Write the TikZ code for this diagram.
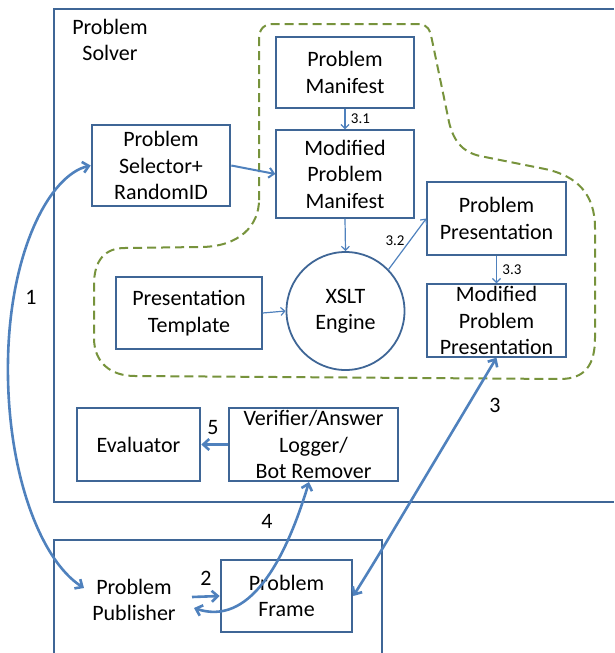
\documentclass[tikz,border=0pt]{standalone}
\usepackage{fontspec}
\setmainfont{Carlito}
\usetikzlibrary{arrows.meta}
\definecolor{boxblue}{HTML}{3F6696}
\definecolor{arrowblue}{HTML}{4F81BD}
\definecolor{olivegreen}{HTML}{77933C}
\tikzset{
  every node/.style={font=\fontsize{22}{26.5}\selectfont, align=center, text=black},
  thinbox/.style={draw=boxblue, line width=1.4pt, inner sep=0pt},
  thickbox/.style={draw=boxblue, line width=2.6pt, inner sep=0pt},
  frameline/.style={draw=boxblue, line width=2.6pt},
  bigtip/.tip={Straight Barb[length=6pt,width=11pt]},
  midtip/.tip={Straight Barb[length=5pt,width=10pt]},
  smalltip/.tip={Straight Barb[length=4pt,width=8pt]},
  bigarrow/.style={draw=arrowblue, line width=2.6pt, bigtip-bigtip},
  onearrow/.style={draw=arrowblue, line width=2.6pt, -bigtip},
  midarrow/.style={draw=arrowblue, line width=2pt, -midtip},
  smallarrow/.style={draw=arrowblue, line width=1.2pt, -smalltip},
  numlabel/.style={font=\fontsize{22}{26}\selectfont},
  steplabel/.style={font=\fontsize{15}{18}\selectfont},
  region/.style={draw=olivegreen, line width=2pt, dash pattern=on 9pt off 5pt}
}
\begin{document}
\begin{tikzpicture}[x=1pt,y=-1pt]
\useasboundingbox (0,0) rectangle (614,653);

% outer frames
\draw[frameline] (614,9) -- (54,9) -- (54,502) -- (614,502);
\draw[frameline] (54,653) -- (54,540) -- (382,540) -- (382,653);
\node (solver) at (110,40) {Problem\\Solver};

% dashed region around the presentation pipeline
\draw[region] (259,200) -- (259,40) .. controls (259,28) and (264,24) .. (275,24)
  -- (418,24) .. controls (428,24) and (430,30) .. (432,40)
  -- (448,117) .. controls (452,140) and (462,152) .. (480,156)
  -- (545,169) .. controls (578,176) and (595,195) .. (595,228)
  -- (595,338) .. controls (595,365) and (585,379) .. (560,379)
  -- (135,376) .. controls (110,376) and (94,362) .. (94,338)
  -- (94,285) .. controls (94,260) and (105,248) .. (125,248)
  -- (200,247) .. controls (240,247) and (259,225) .. (259,200) -- cycle;

% nodes
\node[thinbox, minimum width=138pt, minimum height=71pt] (pm) at (345,72.5) {Problem\\Manifest};
\node[thinbox, minimum width=138pt, minimum height=88pt] (mm) at (345,174) {Modified\\Problem\\Manifest};
\node[thickbox, minimum width=138pt, minimum height=81pt] (sel) at (161,165.5) {Problem\\Selector+\\RandomID};
\node[thinbox, minimum width=139pt, minimum height=73pt] (ppres) at (496.5,218.5) {Problem\\Presentation};
\node[thinbox, minimum width=139pt, minimum height=73pt] (mpres) at (496.5,320.5) {Modified\\Problem\\Presentation};
\node[thinbox, minimum width=146pt, minimum height=72pt] (tmpl) at (189,313) {Presentation\\Template};
\node[thinbox, line width=1.8pt, circle, minimum size=118pt] (xslt) at (345.5,311) {XSLT\\Engine};
\node[thickbox, minimum width=123pt, minimum height=73pt] (eval) at (138.5,444.5) {Evaluator};
\node[thickbox, minimum width=169pt, minimum height=73pt] (ver) at (313.5,444.5) {Verifier/Answer\\Logger/\\Bot Remover};
\node[thickbox, minimum width=131pt, minimum height=72pt] (frame) at (286.5,596) {Problem\\Frame};
\node[inner sep=0pt] (pub) at (134,600) {Problem\\Publisher};

% inner pipeline connectors
\draw[smallarrow] (pm.south) -- (mm.north) node[steplabel, midway, right=2pt] {3.1};
\draw[smallarrow] (mm.south) -- (xslt.north);
\draw[smallarrow] (tmpl.east) -- (xslt.west);
\draw[smallarrow] (xslt.44) -- (ppres.west);
\node[steplabel] (l32) at (395,241) {3.2};
\draw[smallarrow] (ppres.south) -- (mpres.north) node[steplabel, midway, right=2pt] {3.3};
\draw[midarrow] (sel.east) -- (mm.west);

% main numbered flows
\coordinate (pubtop) at (84,588);
\coordinate (pubin) at (192,597);
\coordinate (pubout) at (194,608);
\coordinate (bend3) at (384,546);
\coordinate (verin) at (309,482);

\draw[bigarrow] (sel.west) .. controls (50,175) and (10,250) .. (8,360)
  .. controls (6,470) and (40,560) .. (pubtop);
\node[numlabel] (n1) at (31,297) {1};

\draw[onearrow] (pubin) -- (frame.west);
\node[numlabel] (n2) at (206,578) {2};

\draw[bigarrow] (mpres.south) -- (bend3) .. controls (372,566) and (362,582) .. (frame.east);
\node[numlabel] (n3) at (495,405) {3};

\draw[bigarrow] (pubout) .. controls (248,626) and (284,565) .. (verin);
\node[numlabel] (n4) at (267,521) {4};

\draw[onearrow] (ver.west) -- (eval.east);
\node[numlabel] (n5) at (213,428) {5};
\end{tikzpicture}
\end{document}
